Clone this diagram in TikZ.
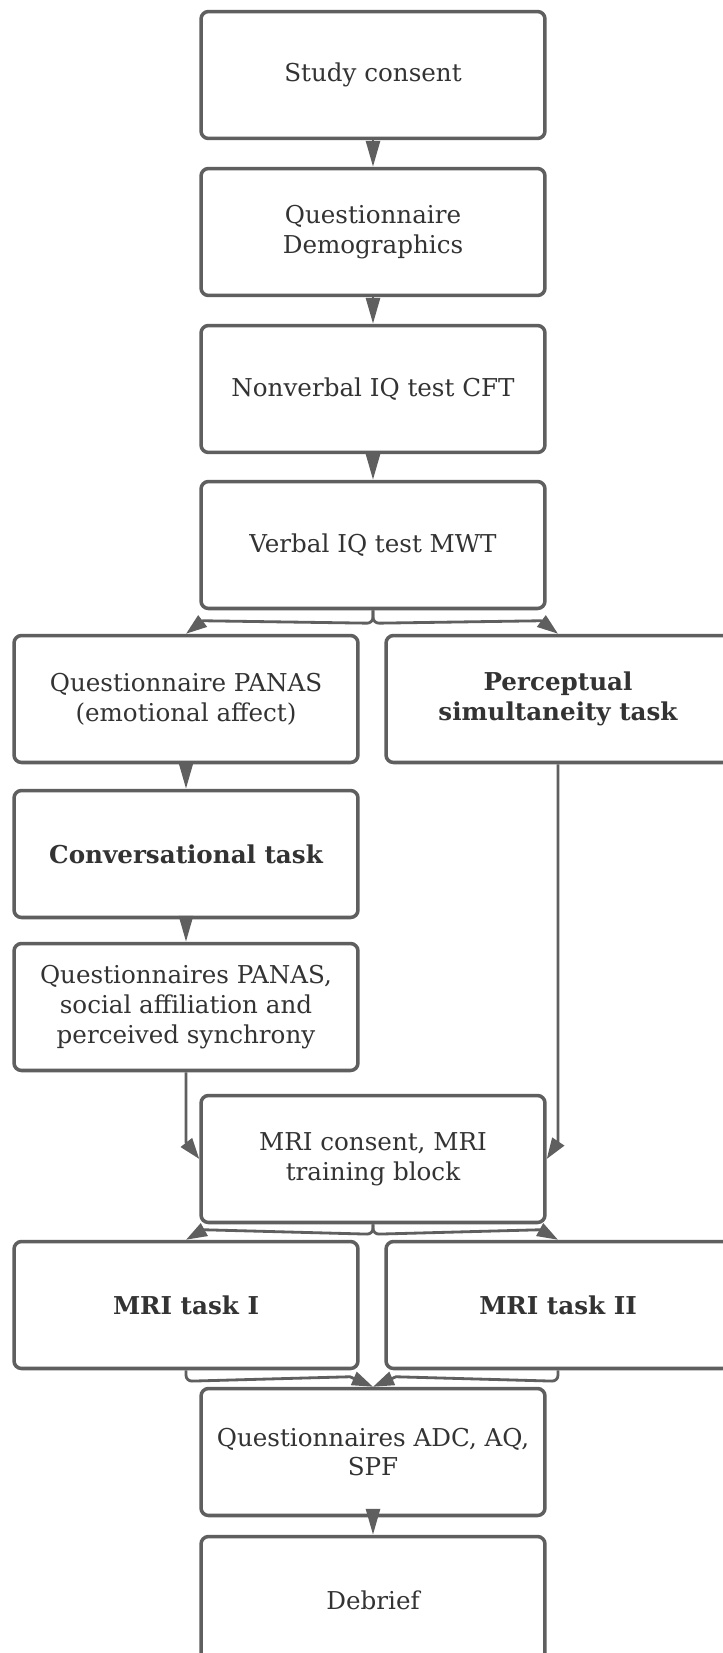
\documentclass[tikz,border=0pt]{standalone}
\usepackage{fontspec}
\setmainfont{DejaVu Serif}
\usetikzlibrary{arrows.meta}
\definecolor{boxgray}{HTML}{5F5F5F}
\definecolor{txtgray}{HTML}{333333}

\begin{document}
\begin{tikzpicture}[x=0.02cm, y=-0.02cm,
  stage/.style={draw=boxgray, line width=2pt, rounded corners=0.15cm, fill=white,
    minimum width=6.88cm, minimum height=2.54cm, align=center, text=txtgray,
    font=\fontsize{14}{17}\selectfont},
  task/.style={stage, font=\fontsize{14}{17}\selectfont\bfseries},
  flow/.style={draw=boxgray, line width=1.6pt, -{Triangle[length=0.42cm, width=0.28cm]}},
  chain/.style={flow, -{Triangle[length=0.52cm, width=0.28cm]}},
  branch/.style={flow}]
  \clip (0,0) rectangle (723,1653);
  \fill[white] (0,0) rectangle (723,1653);
  % main column
  \node[stage] (consent) at (373,75) {Study consent};
  \node[stage] (demo) at (373,232) {Questionnaire\\Demographics};
  \node[stage] (nviq) at (373,389) {Nonverbal IQ test CFT};
  \node[stage] (viq) at (373,545) {Verbal IQ test MWT};
  \foreach \a/\b in {consent/demo, demo/nviq, nviq/viq}
    \draw[chain] (\a.south) -- (\b.north);
  % two branches
  \node[stage] (panas) at (186,699) {Questionnaire PANAS\\(emotional affect)};
  \node[task] (percept) at (558,699) {Perceptual\\simultaneity task};
  \node[task] (conv) at (186,854) {Conversational task};
  \node[stage] (quest) at (186,1007) {Questionnaires PANAS,\\social affiliation and\\perceived synchrony};
  \draw[branch] (viq.south) [rounded corners=0.12cm] -- ++(0,13) [sharp corners] -- ([xshift=0.34cm, yshift=0.26cm]panas.north) -- (panas.north);
  \draw[branch] (viq.south) [rounded corners=0.12cm] -- ++(0,13) [sharp corners] -- ([xshift=-0.34cm, yshift=0.26cm]percept.north) -- (percept.north);
  \foreach \a/\b in {panas/conv, conv/quest}
    \draw[chain] (\a.south) -- (\b.north);
  % MRI part
  \node[stage] (mric) at (373,1159) {MRI consent, MRI\\training block};
  \draw[branch] (quest.south) -- ([yshift=0.34cm]quest.south |- mric.west) -- (mric.west);
  \draw[branch] (percept.south) -- ([yshift=0.34cm]percept.south |- mric.east) -- (mric.east);
  \node[task] (mri1) at (186,1305) {MRI task I};
  \node[task] (mri2) at (558,1305) {MRI task II};
  \draw[branch] (mric.south) [rounded corners=0.12cm] -- ++(0,10) [sharp corners] -- ([xshift=0.36cm, yshift=0.2cm]mri1.north) -- (mri1.north);
  \draw[branch] (mric.south) [rounded corners=0.12cm] -- ++(0,10) [sharp corners] -- ([xshift=-0.36cm, yshift=0.2cm]mri2.north) -- (mri2.north);
  \node[stage] (adc) at (373,1452) {Questionnaires ADC, AQ,\\SPF};
  \draw[branch] (mri1.south) [rounded corners=0.12cm] -- ++(0,11) [sharp corners] -- ([xshift=-0.46cm, yshift=0.2cm]adc.north) -- (adc.north);
  \draw[branch] (mri2.south) [rounded corners=0.12cm] -- ++(0,11) [sharp corners] -- ([xshift=0.46cm, yshift=0.2cm]adc.north) -- (adc.north);
  \node[stage] (debrief) at (373,1600) {Debrief};
  \draw[chain] (adc.south) -- (debrief.north);
\end{tikzpicture}
\end{document}
